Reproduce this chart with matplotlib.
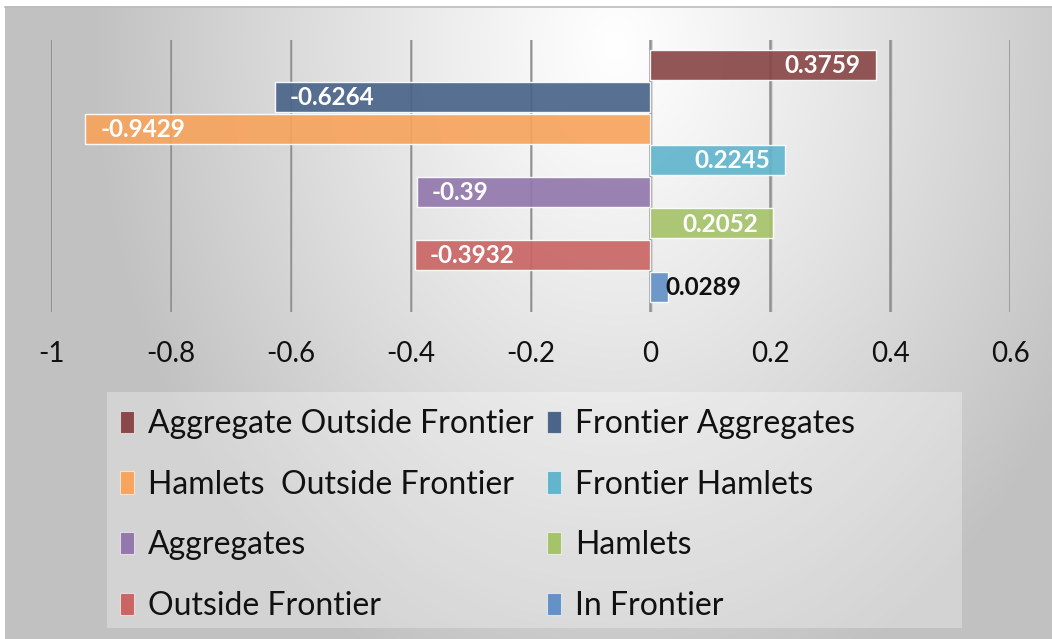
import numpy as np
import matplotlib
matplotlib.use("Agg")
import matplotlib.pyplot as plt
from matplotlib.patches import Rectangle, Patch

# Correlation values per settlement class
series = [
    "Aggregate Outside Frontier",
    "Frontier Aggregates",
    "Hamlets  Outside Frontier",
    "Frontier Hamlets",
    "Aggregates",
    "Hamlets",
    "Outside Frontier",
    "In Frontier",
]
values = [0.3759, -0.6264, -0.9429, 0.2245, -0.39, 0.2052, -0.3932, 0.0289]
value_labels = ["0.3759", "-0.6264", "-0.9429", "0.2245", "-0.39", "0.2052", "-0.3932", "0.0289"]
colors = ["#8a4848", "#4a6589", "#f7a45e", "#62b5cd", "#9278ad", "#a6c36b", "#c96664", "#6591c8"]
x_ticks = [-1, -0.8, -0.6, -0.4, -0.2, 0, 0.2, 0.4, 0.6]
x_tick_labels = ["-1", "-0.8", "-0.6", "-0.4", "-0.2", "0", "0.2", "0.4", "0.6"]

W, H, DPI = 1052, 639, 100
plt.rcParams["font.family"] = ["Lato", "DejaVu Sans"]

fig = plt.figure(figsize=(W / DPI, H / DPI), dpi=DPI)
fig.patch.set_facecolor("white")

# Chart-area background: soft radial gradient, light near top centre
bg = fig.add_axes([5 / W, 0, 1 - 5 / W, 1 - 6 / H], zorder=0)
bw, bh = 1047, 633
yy, xx = np.mgrid[0:bh, 0:bw]
cx, cy = 610, 40
r = np.sqrt(((xx - cx) / 520.0) ** 2 + ((yy - cy) / 680.0) ** 2)
r = np.clip(r, 0, 1) ** 1.1
v = 1.0 * (1 - r) + 0.76 * r
img = np.dstack([v, v, v])
bg.imshow(img, aspect="auto", extent=[0, 1, 0, 1], origin="upper")
bg.set_axis_off()
# thin top border line of the chart area
fig.add_artist(plt.Line2D([5 / W, 1], [1 - 6.5 / H, 1 - 6.5 / H], color="#bdbdbd", lw=1.2, zorder=1))

# Plot area
left, right = 51 / W, 1010 / W
top, bottom = 1 - 40 / H, 1 - 312 / H
ax = fig.add_axes([left, bottom, right - left, top - bottom], zorder=2)
ax.patch.set_alpha(0)

pos = np.arange(len(series))
for xv in x_ticks:
    ax.axvline(xv, color="#8f8f8f", lw=1.8, zorder=1)
    ax.axvline(xv + 0.0025, color="#d0d0d0", lw=0.6, zorder=1)

bars = ax.barh(pos, values, height=0.95, color=colors, alpha=0.92,
               edgecolor=(1, 1, 1, 0.55), linewidth=1.0, zorder=2)

ax.set_xlim(-1, 0.6)
ax.set_ylim(7.8, -0.8)
ax.set_yticks([])
ax.set_xticks(x_ticks)
ax.set_xticklabels(x_tick_labels, fontsize=20, color="#111111")
ax.tick_params(axis="x", length=0, pad=21)
for s in ax.spines.values():
    s.set_visible(False)

# Value labels inside bar ends (the tiny bar gets an outside label)
pad = 15 / 599.4
for p, v, txt in zip(pos, values, value_labels):
    if abs(v) < 0.05:
        ax.text(v - 2 / 599.4, p + 0.02, txt, ha="left", va="center",
                fontsize=17.5, fontweight="bold", color="#111111", zorder=3)
    elif v > 0:
        ax.text(v - pad, p + 0.02, txt, ha="right", va="center",
                fontsize=17.5, fontweight="bold", color="white", zorder=3)
    else:
        ax.text(v + pad, p + 0.02, txt, ha="left", va="center",
                fontsize=17.5, fontweight="bold", color="white", zorder=3)

# Legend box
fig.add_artist(Rectangle((107 / W, 1 - 628 / H), (962 - 107) / W, (628 - 392) / H,
                         transform=fig.transFigure, facecolor="white", alpha=0.3,
                         edgecolor="none", zorder=2))

handles = [Patch(facecolor=c, edgecolor=(1, 1, 1, 0.6), linewidth=0.8) for c in colors]
# two columns filled row by row
order = [0, 2, 4, 6, 1, 3, 5, 7]
leg = fig.legend([handles[i] for i in order], [series[i] for i in order],
                 ncol=2, loc="upper left", bbox_to_anchor=(120 / W, 1 - 409 / H),
                 frameon=False, fontsize=23, handlelength=0.43, handleheight=0.7,
                 handletextpad=0.45, columnspacing=0.41, labelspacing=0.96,
                 borderaxespad=0, borderpad=0)
for t in leg.get_texts():
    t.set_color("#111111")
leg.set_zorder(3)

fig.savefig("out.png", dpi=DPI)
